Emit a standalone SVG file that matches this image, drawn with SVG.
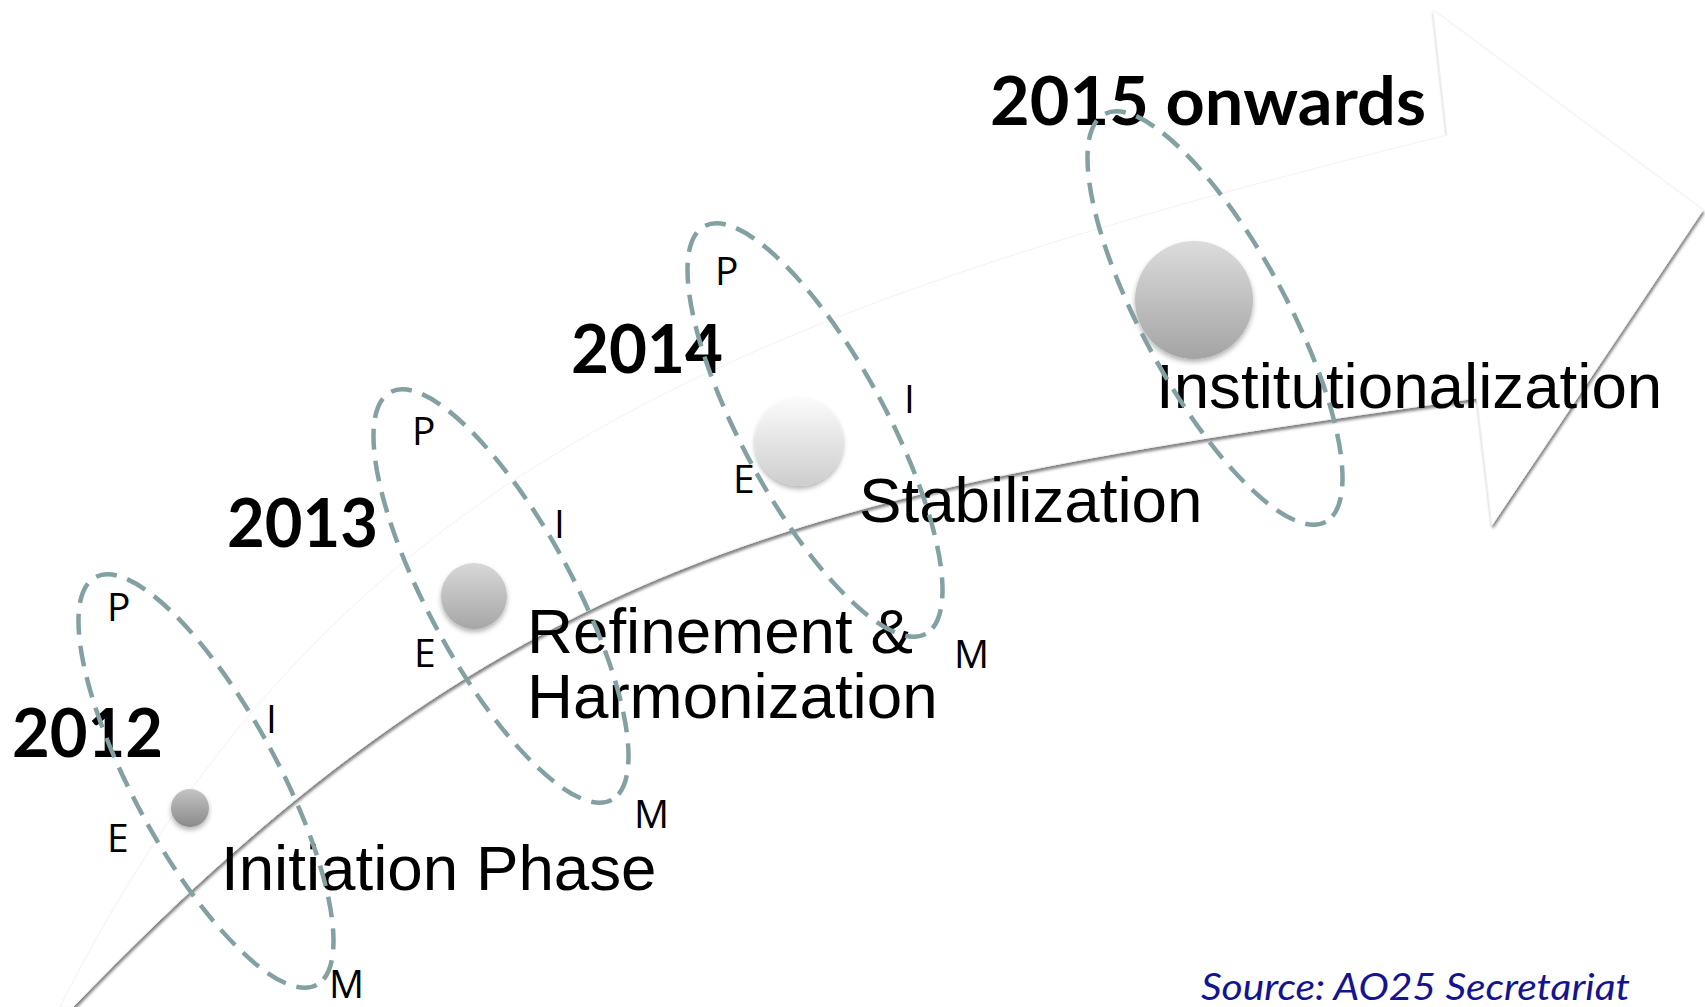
<svg xmlns="http://www.w3.org/2000/svg" width="1705" height="1007" viewBox="0 0 1705 1007">
  <defs>
    <filter id="arrowShadow" x="-5%" y="-5%" width="110%" height="115%">
      <feDropShadow dx="1" dy="3" stdDeviation="1.5" flood-color="#000" flood-opacity="0.5"/>
    </filter>
    <filter id="ballShadow" x="-50%" y="-50%" width="200%" height="200%">
      <feDropShadow dx="0" dy="3" stdDeviation="2.5" flood-color="#000" flood-opacity="0.3"/>
    </filter>
    <linearGradient id="ball1" x1="0" y1="0" x2="0" y2="1">
      <stop offset="0" stop-color="#c4c4c4"/>
      <stop offset="1" stop-color="#8a8a8a"/>
    </linearGradient>
    <linearGradient id="ball2" x1="0" y1="0" x2="0" y2="1">
      <stop offset="0" stop-color="#d8d8d8"/>
      <stop offset="1" stop-color="#a6a6a6"/>
    </linearGradient>
    <linearGradient id="ball3" x1="0" y1="0" x2="0" y2="1">
      <stop offset="0" stop-color="#fbfbfb"/>
      <stop offset="1" stop-color="#cdcdcd"/>
    </linearGradient>
    <linearGradient id="ball4" x1="0" y1="0" x2="0" y2="1">
      <stop offset="0" stop-color="#dcdcdc"/>
      <stop offset="1" stop-color="#a4a4a4"/>
    </linearGradient>
  </defs>
  <style>
    .year{font-family:Lato,"Open Sans",sans-serif;font-weight:700;font-size:66px;fill:#000}
    .label{font-family:"Liberation Sans",Arial,sans-serif;font-size:63.7px;fill:#000}
    .dim{font-family:"Open Sans",sans-serif;font-size:39px;fill:#000}
    .orbit{fill:none;stroke:#83a0a2;stroke-width:4.5;stroke-dasharray:21 11}
    .ball{filter:url(#ballShadow)}
    .src{font-family:Lato,"Open Sans",sans-serif;font-style:italic;font-size:36px;fill:#141490}
  </style>

  <rect width="1705" height="1007" fill="#fff"/>

  <!-- curved timeline arrow -->
  <g id="connectors">
    <path d="M60,1007 C330,473 720,315 1447,135 L1433,10 L1703,210 L1492,525 L1477,398 C830,490 522,539 73,1007 Z"
          fill="#fff" stroke="#f2f2f2" stroke-width="1" filter="url(#arrowShadow)"/>
  </g>

  <!-- 2012 -->
  <g id="stage-2012">
    <text class="year" x="12" y="757" textLength="151" lengthAdjust="spacingAndGlyphs">2012</text>
    <text class="label" x="221" y="890">Initiation Phase</text>
    <circle class="ball" cx="190" cy="808" r="19" fill="url(#ball1)"/>
    <ellipse class="orbit" cx="206" cy="781" rx="232" ry="72" transform="rotate(61.5 206 781)"/>
    <text class="dim" x="107" y="621">P</text>
    <text class="dim" x="266" y="733">I</text>
    <text class="dim" x="107" y="852">E</text>
    <text class="dim" x="329" y="998">M</text>
  </g>

  <!-- 2013 -->
  <g id="stage-2013">
    <text class="year" x="227" y="547" textLength="151" lengthAdjust="spacingAndGlyphs">2013</text>
    <text class="label" x="527" y="653">Refinement &amp;</text>
    <text class="label" x="527" y="718">Harmonization</text>
    <circle class="ball" cx="474" cy="596" r="33" fill="url(#ball2)"/>
    <ellipse class="orbit" cx="501" cy="596" rx="232" ry="72" transform="rotate(61.5 501 596)"/>
    <text class="dim" x="412" y="445">P</text>
    <text class="dim" x="554" y="538">I</text>
    <text class="dim" x="414" y="667">E</text>
    <text class="dim" x="634" y="828">M</text>
  </g>

  <!-- 2014 -->
  <g id="stage-2014">
    <text class="year" x="571" y="373" textLength="152" lengthAdjust="spacingAndGlyphs">2014</text>
    <text class="label" x="859" y="522">Stabilization</text>
    <circle class="ball" cx="799" cy="442" r="44" fill="url(#ball3)"/>
    <ellipse class="orbit" cx="815" cy="430" rx="232" ry="72" transform="rotate(61.5 815 430)"/>
    <text class="dim" x="715" y="285">P</text>
    <text class="dim" x="904" y="413">I</text>
    <text class="dim" x="733" y="493">E</text>
    <text class="dim" x="954" y="668">M</text>
  </g>

  <!-- 2015 onwards -->
  <g id="stage-2015">
    <text class="year" x="990" y="125" textLength="436" lengthAdjust="spacingAndGlyphs">2015 onwards</text>
    <text class="label" x="1156" y="408">Institutionalization</text>
    <circle class="ball" cx="1194" cy="300" r="59" fill="url(#ball4)"/>
    <ellipse class="orbit" cx="1215" cy="318" rx="232" ry="72" transform="rotate(61.5 1215 318)"/>
  </g>

  <g id="source-note">
    <text class="src" x="1201" y="1000" textLength="429" lengthAdjust="spacingAndGlyphs">Source: AO25 Secretariat</text>
  </g>
</svg>
